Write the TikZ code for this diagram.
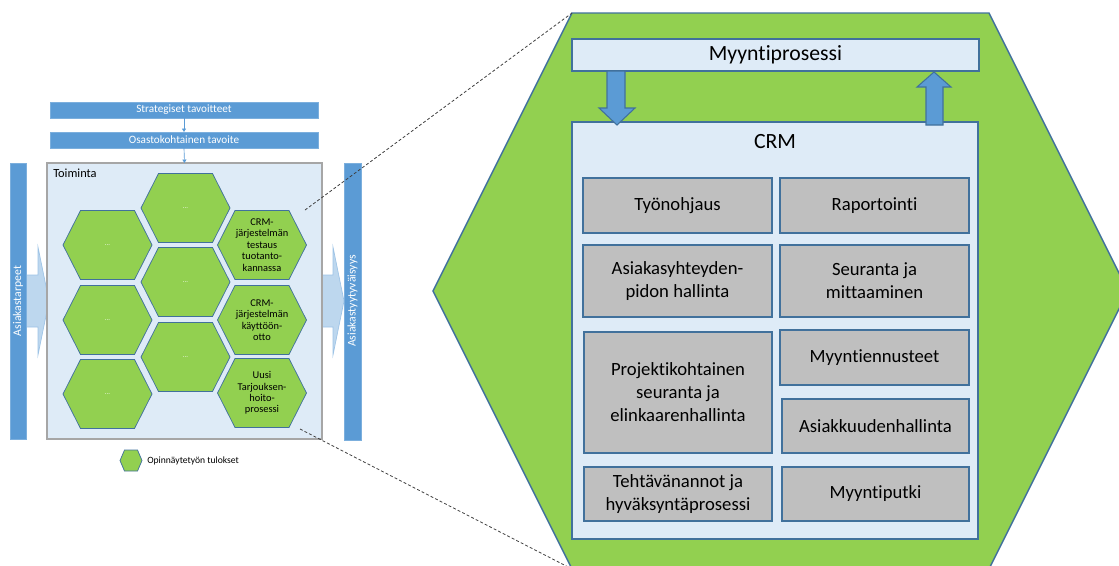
\documentclass[tikz,border=0pt]{standalone}
\usepackage{fontspec}
\setmainfont{Carlito}[RawFeature={-liga;-clig;-calt}]
\usetikzlibrary{calc,arrows.meta}

\definecolor{hexgreen}{HTML}{92D050}
\definecolor{edgeblue}{HTML}{41719C}
\definecolor{barblue}{HTML}{5B9BD5}
\definecolor{paleblue}{HTML}{DEEBF7}
\definecolor{arrowblue}{HTML}{BDD7EE}
\definecolor{arrowedge}{HTML}{9DC3E6}
\definecolor{boxgrey}{HTML}{BFBFBF}
\definecolor{framegrey}{HTML}{A6A6A6}
\definecolor{dashgrey}{HTML}{404040}

\tikzset{
  bigshape/.style={fill=hexgreen, draw=edgeblue, line width=1.1pt, line join=miter},
  panel/.style={fill=paleblue, draw=edgeblue, line width=1.1pt, inner sep=0pt, outer sep=0pt},
  module/.style={fill=boxgrey, draw=edgeblue, line width=1.1pt, inner sep=0pt, outer sep=0pt,
                 align=center, font=\fontsize{14}{17.25}\selectfont},
  blockarrow/.style={fill=barblue, draw=edgeblue, line width=0.8pt, line join=miter},
  goalbar/.style={fill=barblue, draw=barblue!80!white, line width=0.4pt, inner sep=0pt, outer sep=0pt,
                  text=white, font=\fontsize{8.4}{10}\selectfont},
  sidebar/.style={fill=barblue, draw=barblue!80!white, line width=0.4pt},
  sidetext/.style={rotate=90, text=white, font=\fontsize{8.8}{10}\selectfont},
  workarea/.style={fill=paleblue, draw=framegrey, line width=0.8pt, inner sep=0pt, outer sep=0pt},
  wideflow/.style={fill=arrowblue, draw=arrowedge, line width=0.5pt, line join=miter},
  cell/.style={fill=hexgreen, draw=edgeblue, line width=0.55pt, line join=miter},
  celltext/.style={align=center, inner sep=0pt, font=\fontsize{7.8}{8.6}\selectfont},
  celldots/.style={inner sep=0pt, text=white, font=\fontsize{5}{6}\selectfont},
  flow/.style={draw=barblue, line width=0.5pt, -{Triangle[length=2.6pt,width=3pt]}},
  zoomline/.style={draw=dashgrey, line width=0.6pt, dash pattern=on 2.2pt off 1.6pt},
}

% rectangular node from its corner pixels: style, x1, y1, x2, y2, name, text
\newcommand\cornerbox[7]{%
  \node[#1, minimum width={(#4-#2)*0.75pt}, minimum height={(#5-#3)*0.75pt}]
    (#6) at ({(#2+#4)/2},{(#3+#5)/2}) {#7};}

% honeycomb cell: name, centre x, centre y, text style, text
\newcommand\honeycell[5]{%
  \draw[cell] ({#2-44.5},{#3}) -- ({#2-27},{#3-34.5}) -- ({#2+27},{#3-34.5})
    -- ({#2+44.5},{#3}) -- ({#2+27},{#3+34.5}) -- ({#2-27},{#3+34.5}) -- cycle;
  \node[#4] (#1) at ({#2},{#3}) {#5};}

\begin{document}
\begin{tikzpicture}[x=0.75pt, y=-0.75pt]
  \useasboundingbox (0,0) rectangle (1119,565);
  \clip (0,0) rectangle (1119,565);

  % ---------- detailed view: the large hexagon ----------
  \coordinate (hexTL) at (572,13);
  \coordinate (hexTR) at (989,13);
  \coordinate (hexR)  at (1128,291);
  \coordinate (hexBR) at (989,569);
  \coordinate (hexBL) at (572,569);
  \coordinate (hexL)  at (433,291);
  \draw[bigshape] (hexTL) -- (hexTR) -- (hexR) -- (hexBR) -- (hexBL) -- (hexL) -- cycle;

  \cornerbox{panel}{572}{39}{979}{71}{sales}{\fontsize{16.3}{19}\selectfont Myyntiprosessi}
  \cornerbox{panel}{572}{122}{978}{539}{crm}{}
  \node[font=\fontsize{16.3}{19}\selectfont] (crmlabel) at (775,142) {CRM};

  \cornerbox{module}{583}{178}{772}{233}{m1}{Työnohjaus}
  \cornerbox{module}{780}{178}{969}{233}{m2}{Raportointi}
  \cornerbox{module}{583}{245}{772}{317}{m3}{Asiakasyhteyden-\\pidon hallinta}
  \cornerbox{module}{780}{245}{969}{317}{m4}{Seuranta ja\\mittaaminen}
  \cornerbox{module}{584}{332}{772}{453}{m5}{Projektikohtainen\\seuranta ja\\elinkaarenhallinta}
  \cornerbox{module}{780}{330}{969}{385}{m6}{Myyntiennusteet}
  \cornerbox{module}{782}{399}{969}{453}{m7}{Asiakkuudenhallinta}
  \cornerbox{module}{584}{467}{772}{521}{m8}{Tehtävänannot ja\\hyväksyntäprosessi}
  \cornerbox{module}{782}{467}{969}{521}{m9}{Myyntiputki}

  % block arrows between the sales process and CRM
  \draw[blockarrow] (607,71) -- (625,71) -- (625,108) -- (635,108) -- (617,125)
    -- (599,108) -- (607,108) -- cycle;
  \draw[blockarrow] (926,125) -- (943,125) -- (943,87) -- (951,87) -- (934,72)
    -- (917,87) -- (926,87) -- cycle;

  % ---------- overview ----------
  \draw[wideflow] (20,275) -- (38,275) -- (38,247) -- (49,301) -- (38,355)
    -- (38,327) -- (20,327) -- cycle;
  \draw[wideflow] (310,275) -- (333,275) -- (333,247) -- (344,301) -- (333,355)
    -- (333,327) -- (310,327) -- cycle;

  \cornerbox{goalbar}{50}{102}{318}{118}{strat}{Strategiset tavoitteet}
  \cornerbox{goalbar}{50}{132}{318}{148}{dept}{Osastokohtainen tavoite}
  \cornerbox{workarea}{47}{163}{322}{439}{work}{}
  \node[anchor=west, inner sep=0pt, font=\fontsize{9.3}{11}\selectfont] (worklabel) at (53,173) {Toiminta};

  \draw[flow] (strat.south) -- (dept.north);
  \draw[flow] (dept.south) -- (work.north);

  \draw[sidebar] (10,163) rectangle (26,439);
  \node[sidetext] (needs) at (18,301) {Asiakastarpeet};
  \draw[sidebar] (344,163) rectangle (361,440);
  \node[sidetext] (satisfaction) at (352.5,301) {Asiakastyytyväisyys};

  \honeycell{c1}{107.5}{245}{celldots}{...}
  \honeycell{c2}{107.5}{320}{celldots}{...}
  \honeycell{c3}{107.5}{394}{celldots}{...}
  \honeycell{c4}{185.5}{208}{celldots}{...}
  \honeycell{c5}{185.5}{282}{celldots}{...}
  \honeycell{c6}{185.5}{357}{celldots}{...}
  \honeycell{c7}{262}{245}{celltext}{CRM-\\järjestelmän\\testaus\\tuotanto-\\kannassa}
  \honeycell{c8}{262}{320}{celltext}{CRM-\\järjestelmän\\käyttöön-\\otto}
  \honeycell{c9}{262}{393}{celltext}{Uusi\\Tarjouksen-\\hoito-\\prosessi}

  % legend
  \draw[cell] (120,460.5) -- (124.5,450) -- (137.5,450) -- (142,460.5) -- (137.5,471)
    -- (124.5,471) -- cycle;
  \node[anchor=west, inner sep=0pt, font=\fontsize{7.2}{9}\selectfont] (legend) at (147,460.5)
    {Opinnäytetyön tulokset};

  % zoom lines from the overview to the detailed view
  \coordinate (zoomA) at (305,210);
  \coordinate (zoomB) at (300,429);
  \draw[zoomline] (zoomA) -- (hexTL);
  \draw[zoomline] (zoomB) -- (hexBL);
\end{tikzpicture}
\end{document}
